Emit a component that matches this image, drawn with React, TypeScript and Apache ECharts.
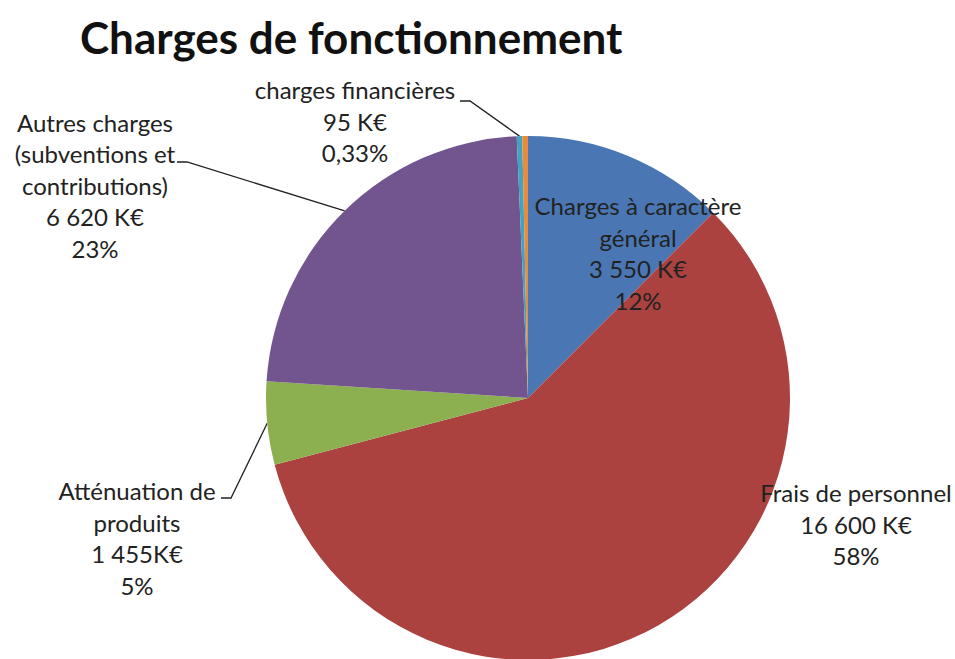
import React, { useEffect, useRef } from "react";
import * as echarts from "echarts";

const titleText = "Charges de fonctionnement";
const categories = [
  "Charges à caractère général",
  "Frais de personnel",
  "Atténuation de produits",
  "Autres charges (subventions et contributions)",
  "charges financières",
  "",
];
const labelTexts = [
  "Charges à caractère\ngénéral",
  "Frais de personnel",
  "Atténuation de\nproduits",
  "Autres charges\n(subventions et\ncontributions)",
  "charges financières",
  "",
];
const values = [3550, 16600, 1455, 6620, 95, 100];
const valueLabels = ["3 550 K€", "16 600 K€", "1 455K€", "6 620 K€", "95 K€", ""];
const percentLabels = ["12%", "58%", "5%", "23%", "0,33%", ""];

const colors = ["#4a77b4", "#ab4240", "#8cb050", "#72558f", "#42a3c0", "#ea8b3b"];

// label block centres and leader-line elbows (layout only)
const labelPlacement: any[] = [
  { x: 638, y: 253, inside: true },
  { x: 856, y: 524, inside: true },
  { x: 137, y: 538, elbow: [231, 498], end: [221, 498] },
  { x: 95, y: 185, elbow: [187, 162], end: [177, 162] },
  { x: 355, y: 121, elbow: [470, 101], end: [460, 101] },
  { hidden: true },
];

export default function App() {
  const ref = useRef<HTMLDivElement>(null);
  useEffect(() => {
    document.body.style.margin = "0";
    const chart = echarts.init(ref.current!, undefined, { renderer: "svg" });
    const font = "Lato, 'Open Sans', sans-serif";
    chart.setOption({
      animation: false,
      backgroundColor: "#ffffff",
      title: {
        text: titleText,
        left: 75,
        top: 10,
        textStyle: { fontFamily: font, fontWeight: "bold", fontSize: 44, color: "#111111" },
      },
      series: [
        {
          type: "pie",
          center: [528, 398],
          radius: 262,
          startAngle: 90,
          clockwise: true,
          avoidLabelOverlap: false,
          itemStyle: { borderWidth: 0 },
          label: {
            show: true,
            position: "outside",
            fontFamily: font,
            fontSize: 24,
            lineHeight: 31.5,
            color: "#222222",
            align: "center",
            formatter: (p: any) =>
              `${labelTexts[p.dataIndex]}\n${valueLabels[p.dataIndex]}\n${percentLabels[p.dataIndex]}`,
          },
          labelLine: { show: true, lineStyle: { color: "#222222", width: 1.3 } },
          labelLayout: (params: any) => {
            const pl: any = labelPlacement[params.dataIndex];
            if (pl.hidden) return {};
            const out: any = { x: pl.x, y: pl.y, align: "center", verticalAlign: "middle" };
            if (!pl.inside && params.labelLinePoints && params.labelLinePoints.length) {
              const a = params.labelLinePoints[0];
              out.labelLinePoints = [a, pl.elbow, pl.end];
            }
            return out;
          },
          data: categories.map((name, i) => ({
            name,
            value: values[i],
            itemStyle: { color: colors[i] },
            label: labelPlacement[i].hidden
              ? { show: false }
              : labelPlacement[i].inside
              ? { position: "inside" }
              : undefined,
            labelLine: labelPlacement[i].inside || labelPlacement[i].hidden ? { show: false } : undefined,
          })),
        },
      ],
    });
    return () => chart.dispose();
  }, []);
  return <div ref={ref} style={{ width: 955, height: 659, position: "absolute", left: 0, top: 0 }} />;
}
